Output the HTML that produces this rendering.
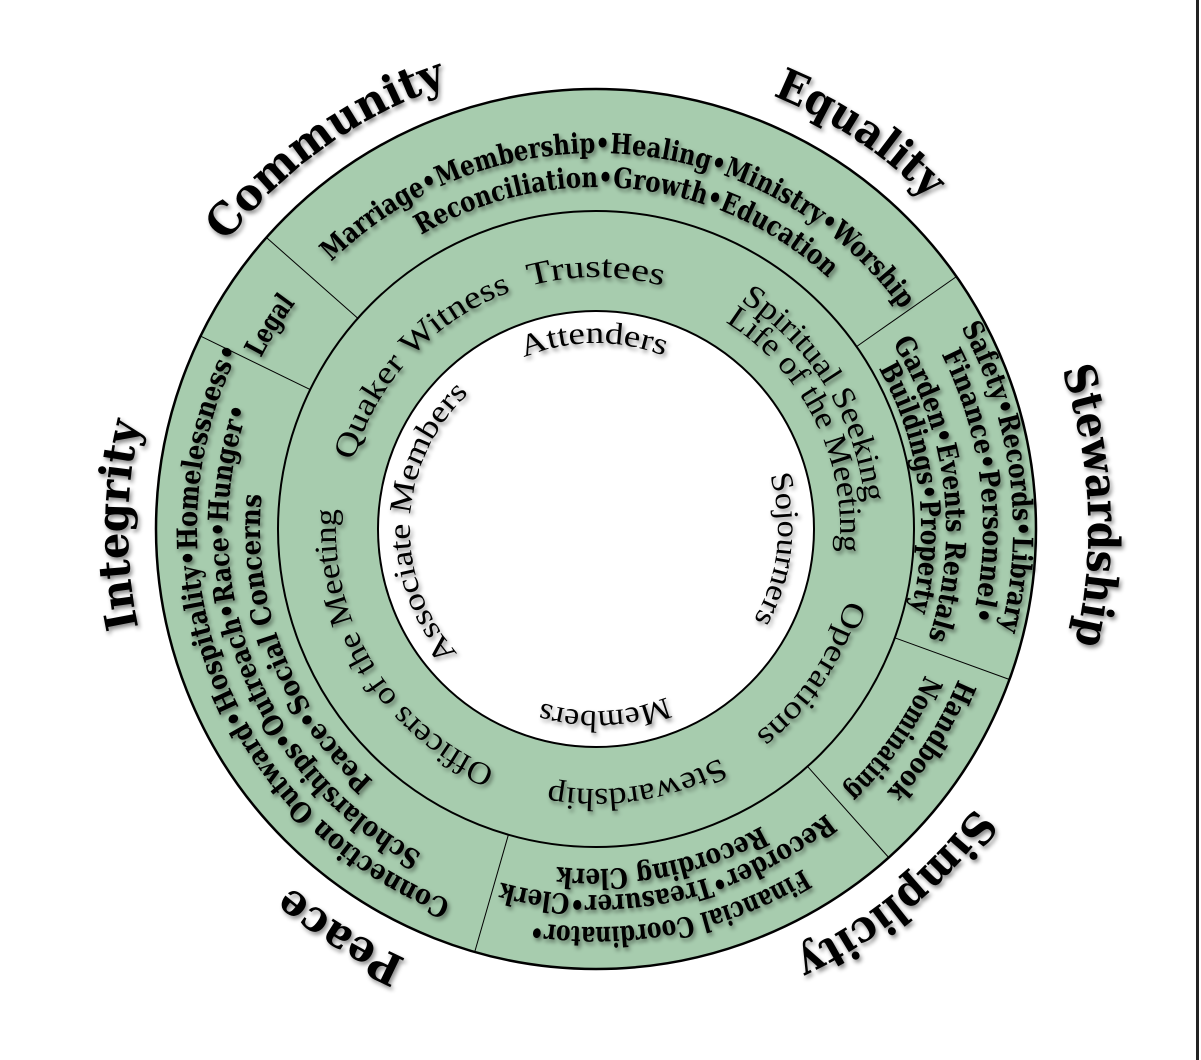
<!DOCTYPE html>
<html><head><meta charset="utf-8"><style>
html,body{margin:0;padding:0;background:#fff;}
svg{display:block;}
.lab{font-family:"DejaVu Serif","Liberation Serif",serif;font-weight:bold;font-size:44px;fill:#000;}
.bd{font-family:"DejaVu Serif","Liberation Serif",serif;font-weight:bold;font-size:28px;fill:#000;}
.md{font-family:"Liberation Serif",serif;font-size:32px;fill:#000;}
.in{font-family:"Liberation Serif",serif;font-size:31px;fill:#000;}
</style></head><body>
<svg width="1201" height="1060" viewBox="0 0 1201 1060" xmlns="http://www.w3.org/2000/svg">
<defs>
<filter id="sh" x="-20%" y="-20%" width="140%" height="140%"><feDropShadow dx="2" dy="3" stdDeviation="2" flood-color="#000" flood-opacity="0.45"/></filter>
<path id="t468" d="M596,997 A468,468 0 1 1 596,61 A468,468 0 1 1 596,997"/>
<path id="t492" d="M596,1021 A492,492 0 1 1 596,37 A492,492 0 1 1 596,1021"/>
<path id="t376" d="M596,905 A376,376 0 1 1 596,153 A376,376 0 1 1 596,905"/>
<path id="t342" d="M596,871 A342,342 0 1 1 596,187 A342,342 0 1 1 596,871"/>
<path id="t417" d="M596,946 A417,417 0 1 1 596,112 A417,417 0 1 1 596,946"/>
<path id="t387" d="M596,916 A387,387 0 1 1 596,142 A387,387 0 1 1 596,916"/>
<path id="t350" d="M596,879 A350,350 0 1 1 596,179 A350,350 0 1 1 596,879"/>
<path id="t325" d="M596,854 A325,325 0 1 1 596,204 A325,325 0 1 1 596,854"/>
<path id="t252" d="M596,781 A252,252 0 1 1 596,277 A252,252 0 1 1 596,781"/>
<path id="t270" d="M596,799 A270,270 0 1 1 596,259 A270,270 0 1 1 596,799"/>
<path id="t244" d="M596,773 A244,244 0 1 1 596,285 A244,244 0 1 1 596,773"/>
<path id="t186" d="M596,715 A186,186 0 1 1 596,343 A186,186 0 1 1 596,715"/>
<path id="b470" d="M596,59 A470,470 0 1 1 596,999 A470,470 0 1 1 596,59"/>
<path id="b392" d="M596,137 A392,392 0 1 1 596,921 A392,392 0 1 1 596,137"/>
<path id="b360" d="M596,169 A360,360 0 1 1 596,889 A360,360 0 1 1 596,169"/>
<path id="b398" d="M596,131 A398,398 0 1 1 596,927 A398,398 0 1 1 596,131"/>
<path id="b366" d="M596,163 A366,366 0 1 1 596,895 A366,366 0 1 1 596,163"/>
<path id="b340" d="M596,189 A340,340 0 1 1 596,869 A340,340 0 1 1 596,189"/>
<path id="b399" d="M596,130 A399,399 0 1 1 596,928 A399,399 0 1 1 596,130"/>
<path id="b368" d="M596,161 A368,368 0 1 1 596,897 A368,368 0 1 1 596,161"/>
<path id="b336" d="M596,193 A336,336 0 1 1 596,865 A336,336 0 1 1 596,193"/>
<path id="b260" d="M596,269 A260,260 0 1 1 596,789 A260,260 0 1 1 596,269"/>
<path id="b182" d="M596,347 A182,182 0 1 1 596,711 A182,182 0 1 1 596,347"/>
</defs>
<rect x="1196" y="0" width="3" height="1060" fill="#222"/>
<circle cx="596" cy="529" r="440" fill="#a7ccae" stroke="#000" stroke-width="2.5"/>
<circle cx="596" cy="529" r="318" fill="none" stroke="#000" stroke-width="2"/>
<circle cx="596" cy="529" r="218" fill="#fff" stroke="#000" stroke-width="2"/>
<g stroke="#000" stroke-width="1">
<line x1="310.2" y1="389.6" x2="200.5" y2="336.1"/>
<line x1="357.8" y1="318.3" x2="266.4" y2="237.5"/>
<line x1="856.5" y1="346.6" x2="956.4" y2="276.6"/>
<line x1="894.8" y1="637.8" x2="1009.5" y2="679.5"/>
<line x1="807.5" y1="766.4" x2="888.7" y2="857.5"/>
<line x1="508.4" y1="834.7" x2="474.7" y2="952.0"/>
</g>
<g filter="url(#sh)" text-anchor="middle">
<text class="lab"><textPath href="#t468" startOffset="40.17%" textLength="275" lengthAdjust="spacingAndGlyphs">Community</textPath></text>
<text class="lab"><textPath href="#t468" startOffset="59.36%" textLength="188" lengthAdjust="spacingAndGlyphs">Equality</textPath></text>
<text class="lab"><textPath href="#t492" startOffset="74.25%" textLength="278" lengthAdjust="spacingAndGlyphs">Stewardship</textPath></text>
<text class="lab"><textPath href="#t468" startOffset="25.14%" textLength="206" lengthAdjust="spacingAndGlyphs">Integrity</textPath></text>
<text class="lab"><textPath href="#b470" startOffset="39.06%" textLength="235" lengthAdjust="spacingAndGlyphs">Simplicity</textPath></text>
<text class="lab"><textPath href="#b470" startOffset="58.94%" textLength="137" lengthAdjust="spacingAndGlyphs">Peace</textPath></text>

<text class="bd"><textPath href="#t376" startOffset="51.33%" textLength="650" lengthAdjust="spacingAndGlyphs">Marriage•Membership•Healing•Ministry•Worship</textPath></text>
<text class="bd"><textPath href="#t342" startOffset="51.67%" textLength="439" lengthAdjust="spacingAndGlyphs">Reconciliation•Growth•Education</textPath></text>
<text class="bd"><textPath href="#t376" startOffset="33.89%" textLength="65" lengthAdjust="spacingAndGlyphs">Legal</textPath></text>
<text class="bd"><textPath href="#t417" startOffset="72.94%" textLength="313" lengthAdjust="spacingAndGlyphs">Safety•Records•Library</textPath></text>
<text class="bd"><textPath href="#t387" startOffset="73.17%" textLength="274" lengthAdjust="spacingAndGlyphs">Finance•Personnel•</textPath></text>
<text class="bd"><textPath href="#t350" startOffset="73.08%" textLength="308" lengthAdjust="spacingAndGlyphs">Garden•Events Rentals</textPath></text>
<text class="bd"><textPath href="#t325" startOffset="72.92%" textLength="251" lengthAdjust="spacingAndGlyphs">Buildings•Property</textPath></text>
<text class="bd"><textPath href="#b392" startOffset="33.97%" textLength="134" lengthAdjust="spacingAndGlyphs">Handbook</textPath></text>
<text class="bd"><textPath href="#b360" startOffset="34.78%" textLength="142" lengthAdjust="spacingAndGlyphs">Nominating</textPath></text>
<text class="bd"><textPath href="#b398" startOffset="46.94%" textLength="283" lengthAdjust="spacingAndGlyphs">Financial Coordinator•</textPath></text>
<text class="bd"><textPath href="#b366" startOffset="46.67%" textLength="345" lengthAdjust="spacingAndGlyphs">Recorder•Treasurer•Clerk</textPath></text>
<text class="bd"><textPath href="#b340" startOffset="46.86%" textLength="212" lengthAdjust="spacingAndGlyphs">Recording Clerk</textPath></text>
<text class="bd"><textPath href="#b399" startOffset="69.17%" textLength="664" lengthAdjust="spacingAndGlyphs">Connection Outward•Hospitality•Homelessness•</textPath></text>
<text class="bd"><textPath href="#b368" startOffset="69.08%" textLength="520" lengthAdjust="spacingAndGlyphs">Scholarships•Outreach•Race•Hunger•</textPath></text>
<text class="bd"><textPath href="#b336" startOffset="69.08%" textLength="319" lengthAdjust="spacingAndGlyphs">Peace•Social Concerns</textPath></text>

<text class="md"><textPath href="#t252" startOffset="50%" textLength="135" lengthAdjust="spacingAndGlyphs">Trustees</textPath></text>
<text class="md"><textPath href="#t252" startOffset="36.94%" textLength="240" lengthAdjust="spacingAndGlyphs">Quaker Witness</textPath></text>
<text class="md"><textPath href="#t270" startOffset="66.19%" textLength="245" lengthAdjust="spacingAndGlyphs">Spiritual Seeking</textPath></text>
<text class="md"><textPath href="#t244" startOffset="67.69%" textLength="270" lengthAdjust="spacingAndGlyphs">Life of the Meeting</textPath></text>
<text class="md"><textPath href="#b260" startOffset="34.44%" textLength="165" lengthAdjust="spacingAndGlyphs">Operations</textPath></text>
<text class="md"><textPath href="#b260" startOffset="47.5%" textLength="177" lengthAdjust="spacingAndGlyphs">Stewardship</textPath></text>
<text class="md"><textPath href="#b260" startOffset="66.28%" textLength="325" lengthAdjust="spacingAndGlyphs">Officers of the Meeting</textPath></text>

<text class="in"><textPath href="#t186" startOffset="49.81%" textLength="144" lengthAdjust="spacingAndGlyphs">Attenders</textPath></text>
<text class="in"><textPath href="#t186" startOffset="25.69%" textLength="288" lengthAdjust="spacingAndGlyphs">Associate Members</textPath></text>
<text class="in"><textPath href="#b182" startOffset="26.78%" textLength="150" lengthAdjust="spacingAndGlyphs">Sojourners</textPath></text>
<text class="in"><textPath href="#b182" startOffset="49.25%" textLength="128" lengthAdjust="spacingAndGlyphs">Members</textPath></text>
</g>
</svg>
</body></html>
